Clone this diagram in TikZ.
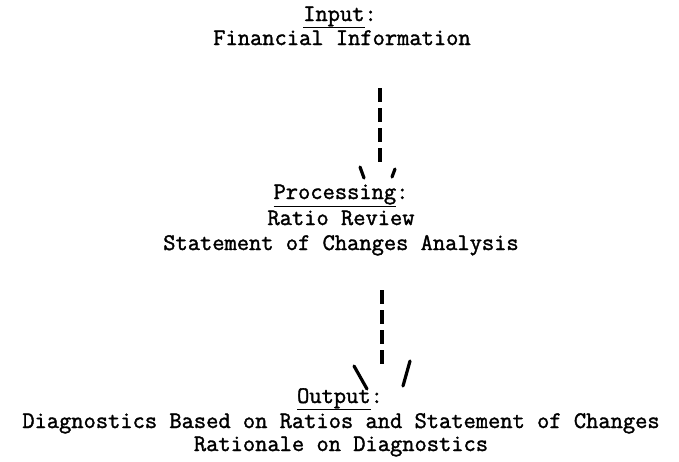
\documentclass[tikz,border=0pt]{standalone}
\usepackage{fontspec}
\setmonofont{Latin Modern Mono}[FakeBold=1.5]
\begin{document}
\begin{tikzpicture}[x=1pt,y=1pt,
  txt/.style={font=\ttfamily\fontsize{23.8}{24}\selectfont, inner sep=0pt, anchor=base},
  conn/.style={line width=3.2pt, dash pattern=on 14pt off 6pt},
  barb/.style={line width=3.2pt, line cap=round}]
\useasboundingbox (0,0) rectangle (679,-461);
% input block
\node[txt] (in) at (340,-21) {\underline{Input}:};
\node[txt] (in2) at (342,-45) {Financial Information};
% processing block
\node[txt] (proc) at (341,-199) {\underline{Processing}:};
\node[txt] (proc2) at (341,-225) {Ratio Review};
\node[txt] (proc3) at (341,-250) {Statement of Changes Analysis};
% output block
\node[txt] (out) at (340,-403) {\underline{Output}:};
\node[txt] (out2) at (341,-428) {Diagnostics Based on Ratios and Statement of Changes};
\node[txt] (out3) at (341,-451) {Rationale on Diagnostics};
% arrow 1
\coordinate (a1s) at (380,-88);
\coordinate (a1e) at (380,-168);
\draw[conn] (a1s) -- (a1e);
\coordinate (b1l) at (360,-167);
\coordinate (b1lt) at (364,-178);
\coordinate (b1r) at (395,-169);
\coordinate (b1rt) at (392,-177);
\draw[barb] (b1l) -- (b1lt);
\draw[barb] (b1r) -- (b1rt);
% arrow 2
\coordinate (a2s) at (382,-290);
\coordinate (a2e) at (382,-370);
\draw[conn] (a2s) -- (a2e);
\coordinate (b2l) at (354,-366);
\coordinate (b2lt) at (367,-389);
\coordinate (b2r) at (410,-361);
\coordinate (b2rt) at (403,-386);
\draw[barb] (b2l) -- (b2lt);
\draw[barb] (b2r) -- (b2rt);
\end{tikzpicture}
\end{document}
